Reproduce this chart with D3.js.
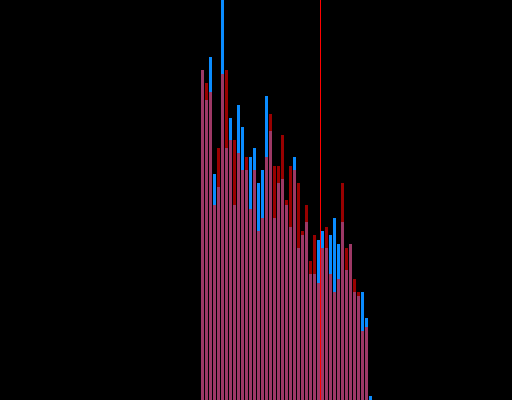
<!DOCTYPE html>
<html>
<head>
<meta charset="utf-8">
<script src="https://cdn.jsdelivr.net/npm/d3@7"></script>
<style>
  html, body { margin: 0; padding: 0; background: #000; }
  svg { display: block; }
</style>
</head>
<body>
<div id="chart"></div>
<script>
// histogram counts per bin, two series drawn on top of each other
var bins = d3.range(43);
var blueCounts = [330, 300, 343, 226, 213, 410, 252, 282, 195, 295, 273, 230,
  243, 252, 217, 230, 304, 269, 182, 217, 221, 195, 173, 243,
  152, 165, 178, 126, 126, 160, 169, 152, 165, 182, 156, 178,
  130, 156, 108, 104, 108, 82, 4];
var redCounts = [330, 317, 308, 195, 252, 326, 330, 260, 260, 247, 230, 243,
  191, 230, 169, 182, 243, 286, 234, 234, 265, 200, 234, 230,
  217, 169, 195, 139, 165, 117, 152, 173, 126, 108, 121, 217,
  152, 156, 121, 108, 69, 73, 0];
// marker line position (in bin units)
var markerValue = 29.875;

var width = 512, height = 400;

var svg = d3
  .select("#chart")
  .append("svg")
  .attr("width", width)
  .attr("height", height)
  .style("background", "#000");

var x = d3.scaleLinear().domain([0, 43]).range([201, 373]);
var y = d3.scaleLinear().domain([0, 400]).range([height, 0]);

function drawBars(data, color, opacity) {
  svg
    .append("g")
    .selectAll("rect")
    .data(data)
    .join("rect")
    .attr("x", function (d, i) {
      return x(bins[i]);
    })
    .attr("width", function (d, i) {
      return x(bins[i] + 1) - x(bins[i]) - 1;
    })
    .attr("y", function (d) {
      return y(d);
    })
    .attr("height", function (d) {
      return y(0) - y(d);
    })
    .attr("fill", color)
    .attr("fill-opacity", opacity);
}

drawBars(blueCounts, "#0a8cff", 1);
drawBars(redCounts, "#ff0000", 0.6);

svg
  .append("line")
  .attr("x1", x(markerValue))
  .attr("x2", x(markerValue))
  .attr("y1", 0)
  .attr("y2", height)
  .attr("stroke", "#ff0000")
  .attr("stroke-width", 1);
</script>
</body>
</html>
